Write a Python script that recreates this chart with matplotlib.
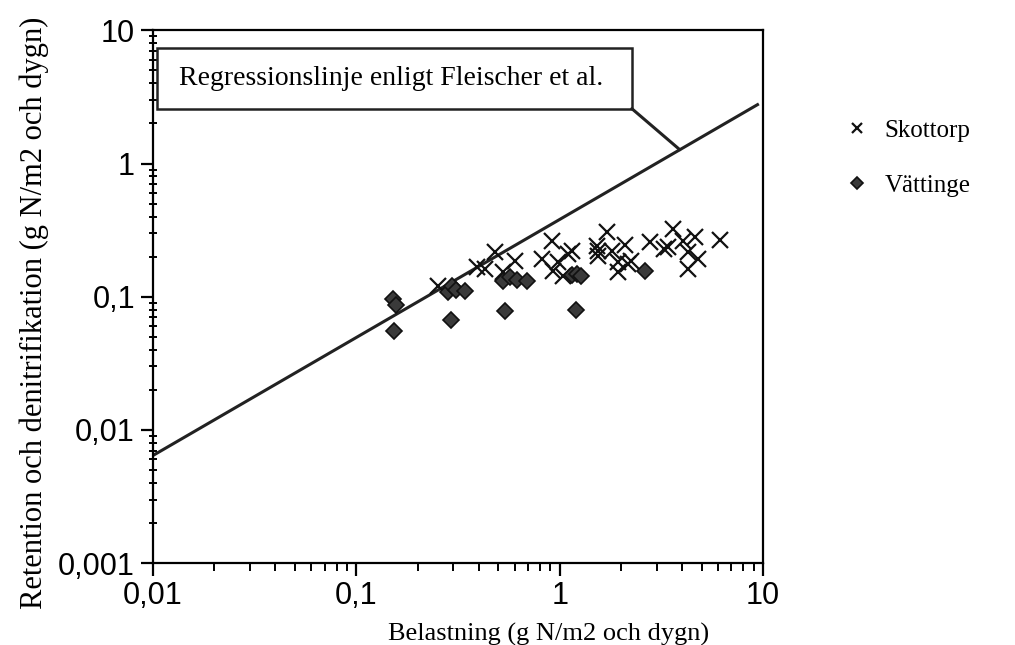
#!/usr/bin/env python3
# -*- coding: utf-8 -*-

r""" Retention och denitrifikation mot belastning, Skottorp och Vättinge
"""

import numpy as np
from matplotlib import pyplot as plt
from matplotlib.patches import Rectangle
from matplotlib.ticker import FixedLocator, LogLocator, NullFormatter

# Matplotlib configuration
plt.rcParams['font.family'] = ['Liberation Serif', 'DejaVu Serif']
plt.rcParams['axes.linewidth'] = 1.6
plt.rcParams['xtick.major.size'] = 9
plt.rcParams['xtick.major.width'] = 1.6
plt.rcParams['xtick.minor.size'] = 6
plt.rcParams['xtick.minor.width'] = 1.4
plt.rcParams['ytick.major.size'] = 9
plt.rcParams['ytick.major.width'] = 1.6
plt.rcParams['ytick.minor.size'] = 6
plt.rcParams['ytick.minor.width'] = 1.4

# Data (g N/m2 och dygn)
skottorp_x = [0.252, 0.481, 0.430, 0.604, 0.527, 0.818, 0.919, 1.15, 0.982,
              0.929, 1.04, 1.71, 1.53, 1.55, 1.81, 2.10, 1.94, 2.17, 1.94,
              2.79, 3.41, 3.61, 4.05, 4.63, 4.28, 4.80, 4.28, 6.15, 3.26,
              1.10, 0.392, 1.55, 2.25]
skottorp_y = [0.120, 0.216, 0.161, 0.185, 0.153, 0.191, 0.262, 0.220, 0.182,
              0.156, 0.143, 0.306, 0.240, 0.202, 0.220, 0.244, 0.182, 0.176,
              0.153, 0.258, 0.236, 0.322, 0.262, 0.281, 0.216, 0.191, 0.161,
              0.267, 0.228, 0.209, 0.167, 0.220, 0.185]

vattinge_x = [0.152, 0.157, 0.153, 0.283, 0.296, 0.309, 0.343, 0.292, 0.527,
              0.570, 0.617, 0.692, 0.538, 1.15, 1.22, 1.27, 1.20, 2.63]
vattinge_y = [0.0957, 0.0863, 0.0550, 0.108, 0.120, 0.112, 0.110, 0.0665,
              0.131, 0.140, 0.133, 0.131, 0.0778, 0.145, 0.148, 0.143,
              0.0791, 0.156]

# Regressionslinje enligt Fleischer et al.: y = a * x**b
reg_a = 0.38
reg_b = 0.886
reg_xmin, reg_xmax = 0.01, 9.4

tick_values = [0.001, 0.01, 0.1, 1, 10]
tick_labels = ["0,001", "0,01", "0,1", "1", "10"]

fig = plt.figure(figsize=(10.15, 6.45), dpi=100)
ax = fig.add_axes([0.1507, 0.127, 0.601, 0.826])
ax.set_xscale('log')
ax.set_yscale('log')
ax.set_xlim(0.01, 10)
ax.set_ylim(0.001, 10)

# regression line
xr = np.logspace(np.log10(reg_xmin), np.log10(reg_xmax), 50)
ax.plot(xr, reg_a * xr**reg_b, '-', color='#222222', lw=2.2, zorder=2)

ax.plot(skottorp_x, skottorp_y, 'x', color='#111111', ms=11, mew=1.6,
        linestyle='none', label='Skottorp', zorder=3)
ax.plot(vattinge_x, vattinge_y, 'D', color='#3a3a3a', mec='#111111', ms=8.5,
        mew=1.2, linestyle='none', label='Vättinge', zorder=3)

# label box with leader line to the regression line
ax.add_patch(Rectangle((0.007, 0.853), 0.778, 0.113, transform=ax.transAxes,
                       fill=False, lw=1.8, ec='#222222', zorder=4))
ax.text(0.042, 0.910, "Regressionslinje enligt Fleischer et al.",
        transform=ax.transAxes, fontsize=20, va='center', ha='left')
x_lead = 3.9
ax.annotate('', xy=(x_lead, reg_a * x_lead**reg_b), xycoords='data',
            xytext=(0.785, 0.853), textcoords='axes fraction',
            arrowprops=dict(arrowstyle='-', lw=2.2, color='#222222',
                            shrinkA=0, shrinkB=0))

# ticks
for axis in (ax.xaxis, ax.yaxis):
    axis.set_major_locator(FixedLocator(tick_values))
    axis.set_minor_locator(LogLocator(base=10, subs=np.arange(2, 10)))
    axis.set_minor_formatter(NullFormatter())
ax.set_xticks([0.01, 0.1, 1, 10])
ax.set_xticklabels(tick_labels[1:], family='Liberation Sans', fontsize=22)
ax.set_yticks(tick_values)
ax.set_yticklabels(tick_labels, family='Liberation Sans', fontsize=22)
ax.tick_params(axis='x', which='both', direction='out', pad=4)
ax.tick_params(axis='y', which='major', direction='out', pad=4)
ax.tick_params(axis='y', which='minor', direction='inout')

ax.set_xlabel("Belastning (g N/m2 och dygn)", fontsize=19)
ax.xaxis.set_label_coords(0.649, -0.112)
ax.set_ylabel("Retention och denitrifikation (g N/m2 och dygn)", fontsize=22)
ax.yaxis.set_label_coords(-0.17, 0.47)

fig.legend(loc='upper left', bbox_to_anchor=(0.81, 0.85), frameon=False,
           fontsize=18, labelspacing=1.3, handletextpad=0.6, handlelength=1.0,
           markerscale=0.7)

plt.savefig('out.png', dpi=100)
